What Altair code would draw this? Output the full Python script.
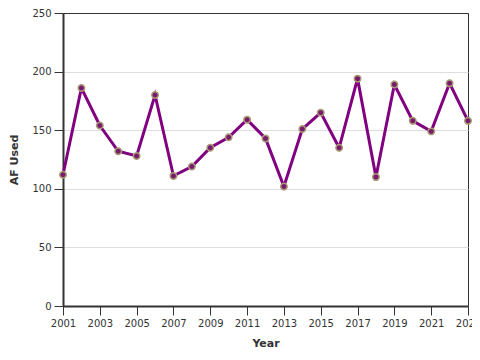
import altair as alt
import pandas as pd

years = list(range(2001, 2024))
af_used = [112, 186, 154, 132, 128, 180, 111, 119, 135, 144, 159, 143,
           102, 151, 165, 135, 194, 110, 189, 158, 149, 190, 158]

df = pd.DataFrame({"Year": years, "AF Used": af_used})

x = alt.X("Year:Q", scale=alt.Scale(domain=[2001, 2023], nice=False, zero=False),
          axis=alt.Axis(values=list(range(2001, 2024, 2)), format="d", grid=False,
                        labelOverlap=False, labelFlush=False, title="Year"))
y = alt.Y("AF Used:Q", scale=alt.Scale(domain=[0, 250]),
          axis=alt.Axis(values=[0, 50, 100, 150, 200, 250], grid=True,
                        labelOverlap=False, title="AF Used",
                        gridColor={"condition": {"test": "datum.value == 250", "value": "#333333"},
                                   "value": "#dddddd"}))

line = alt.Chart(df).mark_line(color="#800080", strokeWidth=3).encode(x=x, y=y)
pts = alt.Chart(df).mark_point(filled=True, fill="#7a1a6e", stroke="#a89c74",
                               strokeWidth=1.5, size=42, opacity=1).encode(x=x, y=y)

chart = (line + pts).properties(
    width=405, height=293,
    autosize=alt.AutoSizeParams(type="none"),
    padding={"left": 55, "top": 5, "right": 4, "bottom": 46},
).configure_view(stroke="#333333", strokeWidth=1).configure_axis(
    domainColor="#333333", domainWidth=2, tickColor="#333333", tickSize=9,
    labelColor="#333333", labelFont="DejaVu Sans", labelFontSize=10,
    titleFont="DejaVu Sans", titleFontSize=11, titleFontWeight="bold",
    titleColor="#333333", labelPadding=3,
).configure_axisY(titlePadding=12).configure_axisX(titlePadding=9)

chart.save("out.html", embed_options={"renderer": "svg", "actions": False})
